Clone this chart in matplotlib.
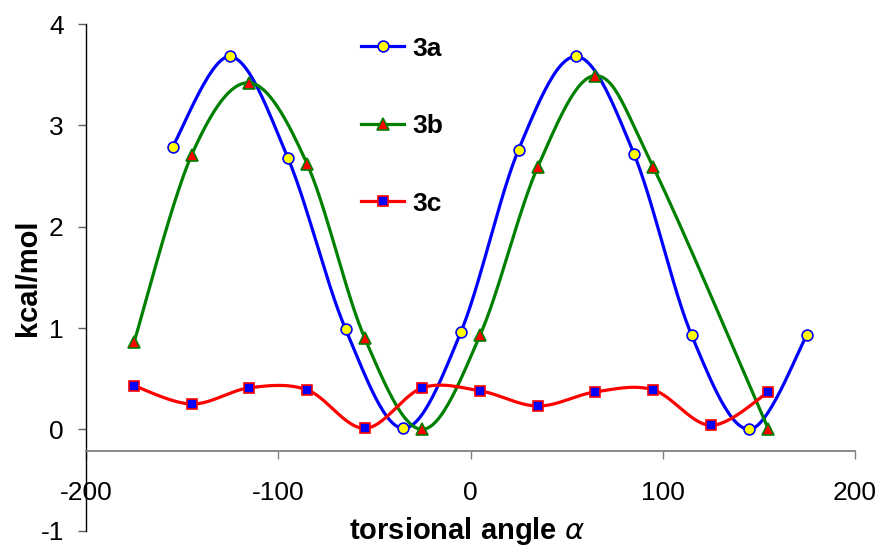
import numpy as np
import matplotlib
matplotlib.use("Agg")
import matplotlib.pyplot as plt

plt.rcParams['font.family'] = ['Liberation Sans', 'DejaVu Sans']
plt.rcParams['axes.unicode_minus'] = False

# ---- data ----
x_3a = [-155, -125, -95, -65, -35, -5, 25, 55, 85, 115, 145, 175]
y_3a = [2.79, 3.68, 2.68, 0.99, 0.01, 0.96, 2.76, 3.68, 2.72, 0.93, 0.00, 0.93]

x_3b = [-175, -145, -115, -85, -55, -25, 5, 35, 65, 95, 155]
y_3b = [0.86, 2.71, 3.42, 2.62, 0.90, 0.00, 0.93, 2.59, 3.49, 2.59, 0.00]

x_3c = [-175, -145, -115, -85, -55, -25, 5, 35, 65, 95, 125, 155]
y_3c = [0.43, 0.25, 0.41, 0.39, 0.01, 0.41, 0.38, 0.23, 0.37, 0.39, 0.04, 0.37]

labels = ["3a", "3b", "3c"]
x_ticks = [-200, -100, 0, 100, 200]
y_ticks = [-1, 0, 1, 2, 3, 4]


def smooth(xs, ys, n=30):
    """Excel-like smoothed line (Catmull-Rom as cubic Bezier)."""
    P = np.column_stack([xs, ys]).astype(float)
    m = len(P)
    out = [P[0]]
    t = np.linspace(0, 1, n)[1:, None]
    for i in range(m - 1):
        p0 = P[i - 1] if i > 0 else P[i]
        p1 = P[i]
        p2 = P[i + 1]
        p3 = P[i + 2] if i + 2 < m else P[i + 1]
        c1 = p1 + (p2 - p0) / 6.0
        c2 = p2 - (p3 - p1) / 6.0
        seg = ((1 - t) ** 3) * p1 + 3 * ((1 - t) ** 2) * t * c1 + 3 * (1 - t) * t ** 2 * c2 + t ** 3 * p2
        out.extend(seg)
    out = np.array(out)
    return out[:, 0], out[:, 1]


fig = plt.figure(figsize=(8.8, 5.46), dpi=100)
L, R, B, T = 86 / 880, 855 / 880, 1 - 530.7 / 546, 1 - 24 / 546
ax = fig.add_axes([L, B, R - L, T - B])

series = [
    (x_3a, y_3a, '#0000FF', 'o', '#FFFF00', '#0000FF', 7.8),
    (x_3b, y_3b, '#008000', '^', '#FF0000', '#008000', 8.8),
    (x_3c, y_3c, '#FF0000', 's', '#0000FF', '#FF0000', 7.3),
]
for (xs, ys, lc, mk, mfc, mec, ms), lab in zip(series, labels):
    sx, sy = smooth(xs, ys)
    ax.plot(sx, sy, color=lc, lw=2.3, solid_capstyle='round', zorder=2)
    ax.plot(xs, ys, linestyle='none', marker=mk, markersize=ms,
            markerfacecolor=mfc, markeredgecolor=mec, markeredgewidth=1.2, zorder=3)
    ax.plot([], [], color=lc, lw=2.3, marker=mk, markersize=ms,
            markerfacecolor=mfc, markeredgecolor=mec, markeredgewidth=1.2, label=lab)

ax.set_xlim(-200, 200)
ax.set_ylim(-1, 4)
ax.set_xticks(x_ticks)
ax.set_yticks(y_ticks)

ax.spines['top'].set_visible(False)
ax.spines['right'].set_visible(False)
ax.spines['bottom'].set_position(('data', -0.21))
ax.spines['bottom'].set_color('#808080')
ax.spines['bottom'].set_linewidth(1.3)
ax.spines['left'].set_color('black')
ax.spines['left'].set_linewidth(1.0)

ax.tick_params(axis='x', direction='out', length=5.5, width=1.0, color='#808080',
               labelsize=19, pad=16)
ax.tick_params(axis='y', direction='out', length=6, width=1.0, color='#606060',
               labelsize=19, pad=10)

fig.text(28 / 880, 1 - 277.5 / 546, 'kcal/mol', fontsize=21, fontweight='bold',
         rotation=90, ha='center', va='center')
fig.text(467 / 880, 1 - 539 / 546, r'torsional angle $\alpha$', fontsize=21,
         fontweight='bold', ha='center', va='baseline')

leg = ax.legend(loc='upper left', bbox_to_anchor=(361 / 880, 1 - 36.5 / 546),
                bbox_transform=fig.transFigure, frameon=False, borderpad=0,
                borderaxespad=0, handlelength=1.63, handletextpad=0.3,
                labelspacing=2.03, prop={'size': 19, 'weight': 'bold'})

fig.savefig('out.png', dpi=100)
